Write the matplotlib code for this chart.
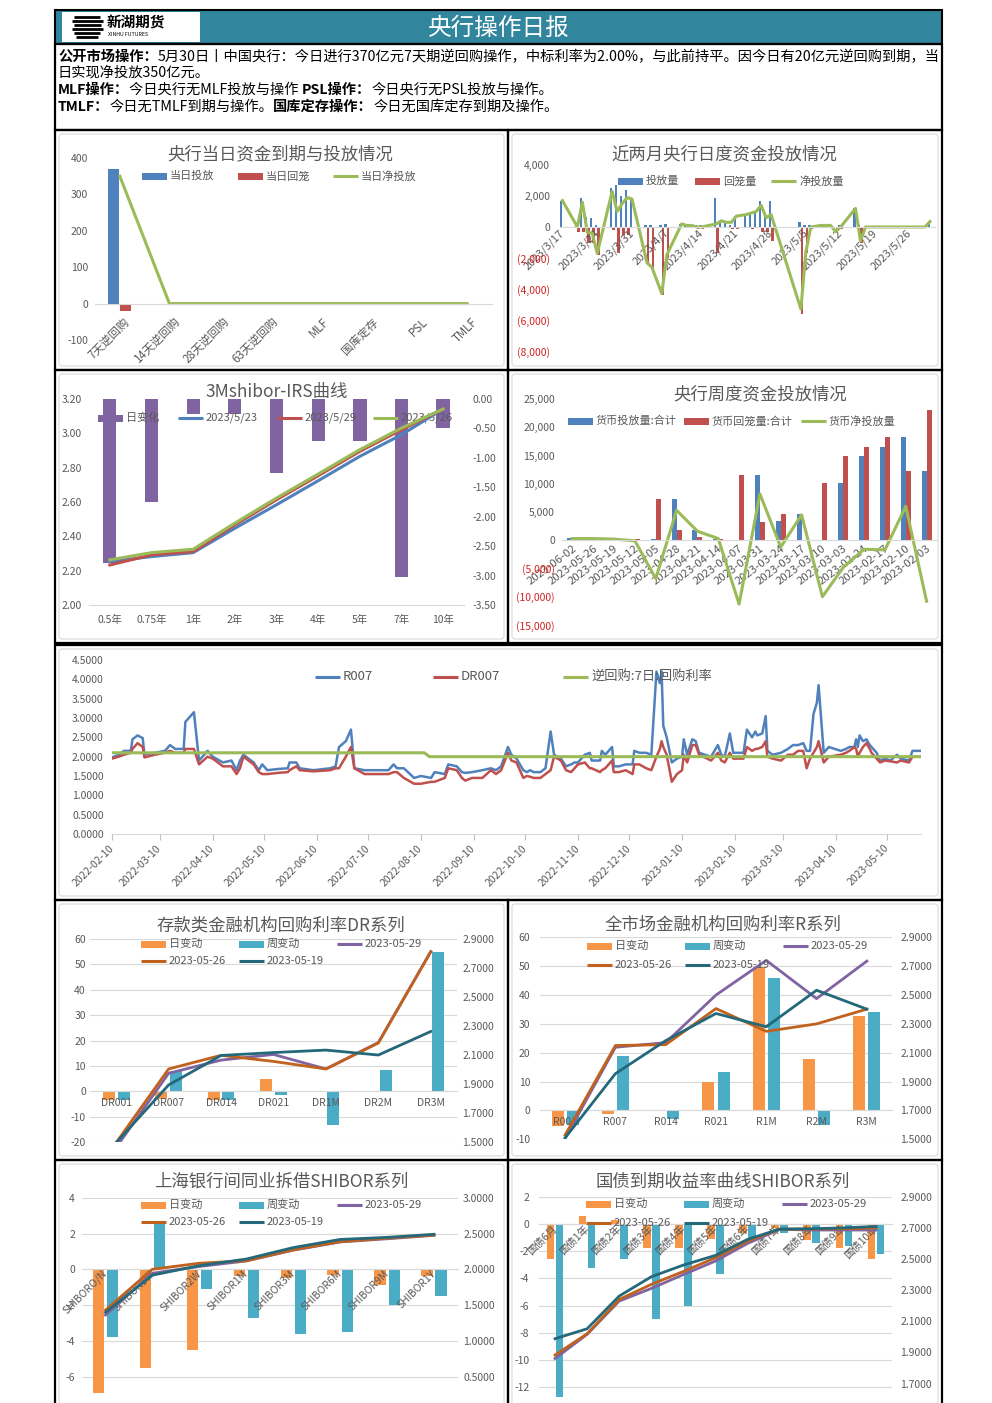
import numpy as np
import pandas as pd
import matplotlib
matplotlib.use('Agg')
import matplotlib.pyplot as plt
import matplotlib.dates as mdates
from matplotlib.patches import Rectangle, FancyBboxPatch
from matplotlib.transforms import ScaledTranslation

plt.rcParams['font.family'] = ['Noto Sans CJK SC', 'DejaVu Sans']
plt.rcParams['axes.unicode_minus'] = False

# ---------------- data ----------------
# 央行当日资金到期与投放情况
p1_cats = ['7天逆回购', '14天逆回购', '28天逆回购', '63天逆回购', 'MLF', '国库定存', 'PSL', 'TMLF']
p1_put = [370, 0, 0, 0, 0, 0, 0, 0]
p1_back = [-20, 0, 0, 0, 0, 0, 0, -3]
p1_net = [350, 0, 0, 0, 0, 0, 0, 0]

# 近两月央行日度资金投放情况
p2_dates = ['2023-03-17', '2023-03-20', '2023-03-21', '2023-03-22', '2023-03-23', '2023-03-24',
            '2023-03-27', '2023-03-28', '2023-03-29', '2023-03-30', '2023-03-31', '2023-04-03',
            '2023-04-04', '2023-04-06', '2023-04-07', '2023-04-10', '2023-04-11', '2023-04-12',
            '2023-04-13', '2023-04-14', '2023-04-17', '2023-04-18', '2023-04-19', '2023-04-20',
            '2023-04-21', '2023-04-23', '2023-04-24', '2023-04-25', '2023-04-26', '2023-04-27',
            '2023-04-28', '2023-05-04', '2023-05-05', '2023-05-06', '2023-05-08', '2023-05-09',
            '2023-05-10', '2023-05-11', '2023-05-12', '2023-05-15', '2023-05-16', '2023-05-17',
            '2023-05-18', '2023-05-19', '2023-05-22', '2023-05-23', '2023-05-24', '2023-05-25',
            '2023-05-26', '2023-05-29', '2023-05-30']
p2_put = [1700, 300, 1850, 650, 600, 100, 2500, 2700, 2000, 2400, 1800,
          100, 100, 100, 200, 200, 100, 100, 100, 100,
          1900, 400, 300, 100, 700, 800, 1000, 1000, 1700, 800, 1700,
          300, 100, 100, 100, 100, 100, 0, 100, 1200, 100,
          20, 20, 20, 20, 20, 20, 20, 20, 20, 370]
p2_back = [0, -300, -300, -1000, -1000, -1800, -200, -1700, -500, -500, 0,
           -2400, -2700, -4400, -2000, 0, 0, 0, -100, -100,
           -1700, 0, 0, -100, -100, 0, -100, 0, -300, -300, -900,
           -5600, -1700, -100, 0, 0, 0, -300, -100, 0, -1000,
           -20, -20, -20, -20, -20, -20, -20, -20, -20, -20]
p2_net = [1700, 0, 1600, -350, -400, -1700, 2300, 1000, 1500, 1900, 1800,
          -2300, -2600, -4300, -1800, 200, 100, 100, 0, 0,
          200, 400, 300, 300, 700, 800, 900, 1000, 1400, 600, 800,
          -5300, -1600, 0, 100, 100, 100, -300, 0, 1200, -900,
          0, 0, 0, 0, 0, 0, 0, 0, 0, 350]

# 3Mshibor-IRS曲线
p3_tenors = ['0.5年', '0.75年', '1年', '2年', '3年', '4年', '5年', '7年', '10年']
p3_chg = [-2.79, -1.75, -0.25, -0.25, -1.26, -0.72, -0.72, -3.03, -0.50]
p3_0523 = [2.253, 2.282, 2.305, 2.447, 2.584, 2.724, 2.866, 2.992, 3.142]
p3_0529 = [2.233, 2.292, 2.311, 2.467, 2.613, 2.753, 2.895, 3.021, 3.142]
p3_0526 = [2.263, 2.305, 2.325, 2.477, 2.623, 2.763, 2.905, 3.031, 3.142]

# 央行周度资金投放情况
p4_weeks = ['2023-06-02', '2023-05-26', '2023-05-19', '2023-05-12', '2023-05-05', '2023-04-28',
            '2023-04-21', '2023-04-14', '2023-04-07', '2023-03-31', '2023-03-24', '2023-03-17',
            '2023-03-10', '2023-03-03', '2023-02-24', '2023-02-17', '2023-02-10', '2023-02-03']
p4_put = [370, 20, 0, 100, 300, 7300, 1900, 300, 100, 11500, 3400, 4600, 100, 10100, 14900, 16500, 18200, 12200]
p4_back = [0, 0, 0, 300, 7300, 1900, 500, 200, 11500, 3300, 4600, 100, 10100, 14900, 16500, 18200, 12200, 23000]
p4_net = [300, 300, 200, -100, -6800, 5300, 1600, 300, -11300, 8200, -1200, 4500, -10000, -4800, -1600, -1700, 6000, -10800]

# R007 / DR007 / 逆回购利率
p5_dates = ['2022-02-10', '2022-02-14', '2022-02-17', '2022-02-21', '2022-02-22', '2022-02-25',
            '2022-02-28', '2022-03-01', '2022-03-07', '2022-03-13', '2022-03-16', '2022-03-19',
            '2022-03-24', '2022-03-25', '2022-03-30', '2022-04-02', '2022-04-07', '2022-04-10',
            '2022-04-16', '2022-04-21', '2022-04-24', '2022-04-26', '2022-04-28', '2022-05-04',
            '2022-05-07', '2022-05-09', '2022-05-12', '2022-05-18', '2022-05-24', '2022-05-25',
            '2022-05-29', '2022-05-31', '2022-06-08', '2022-06-18', '2022-06-21', '2022-06-23',
            '2022-06-27', '2022-06-30', '2022-07-02', '2022-07-08', '2022-07-22', '2022-07-25',
            '2022-07-27', '2022-07-31', '2022-08-06', '2022-08-10', '2022-08-16', '2022-08-18',
            '2022-08-24', '2022-08-26', '2022-08-31', '2022-09-03', '2022-09-05', '2022-09-09',
            '2022-09-15', '2022-09-20', '2022-09-23', '2022-09-26', '2022-09-30', '2022-10-02',
            '2022-10-05', '2022-10-09', '2022-10-11', '2022-10-13', '2022-10-15', '2022-10-19',
            '2022-10-22', '2022-10-25', '2022-10-27', '2022-10-31', '2022-11-03', '2022-11-06',
            '2022-11-08', '2022-11-10', '2022-11-14', '2022-11-17', '2022-11-18', '2022-11-23',
            '2022-11-24', '2022-11-26', '2022-11-30', '2022-12-01', '2022-12-04', '2022-12-08',
            '2022-12-12', '2022-12-13', '2022-12-16', '2022-12-20', '2022-12-23', '2022-12-26',
            '2022-12-28', '2022-12-29', '2022-12-30', '2023-01-01', '2023-01-04', '2023-01-07',
            '2023-01-10', '2023-01-11', '2023-01-13', '2023-01-16', '2023-01-18', '2023-01-20',
            '2023-01-27', '2023-01-31', '2023-02-02', '2023-02-04', '2023-02-07', '2023-02-09',
            '2023-02-12', '2023-02-15', '2023-02-17', '2023-02-20', '2023-02-22', '2023-02-23',
            '2023-02-26', '2023-02-28', '2023-03-01', '2023-03-04', '2023-03-09', '2023-03-13',
            '2023-03-16', '2023-03-19', '2023-03-22', '2023-03-24', '2023-03-26', '2023-03-28',
            '2023-03-30', '2023-03-31', '2023-04-03', '2023-04-06', '2023-04-13', '2023-04-16',
            '2023-04-18', '2023-04-21', '2023-04-22', '2023-04-23', '2023-04-24', '2023-04-26',
            '2023-04-28', '2023-04-30', '2023-05-01', '2023-05-04', '2023-05-06', '2023-05-09',
            '2023-05-12', '2023-05-16', '2023-05-18', '2023-05-23', '2023-05-25', '2023-05-30']
r007 = [1.98, 2.05, 2.15, 2.15, 2.45, 2.55, 2.48, 2.05, 2.10, 2.15, 2.30, 2.20,
        2.20, 2.90, 3.15, 1.90, 2.15, 2.00, 1.85, 1.90, 1.65, 1.90, 2.05, 1.85,
        1.65, 1.80, 1.65, 1.68, 1.70, 1.85, 1.85, 1.70, 1.65, 1.70, 1.75, 2.25,
        2.40, 2.70, 1.70, 1.65, 1.65, 1.80, 1.70, 1.70, 1.45, 1.50, 1.45, 1.60,
        1.55, 1.80, 1.75, 1.60, 1.58, 1.60, 1.65, 1.70, 1.65, 1.75, 2.25, 2.05,
        1.95, 1.65, 1.60, 1.65, 1.60, 1.60, 1.70, 2.65, 2.05, 1.95, 1.75, 1.80,
        1.85, 1.85, 2.05, 2.10, 1.90, 1.90, 2.15, 2.05, 2.25, 1.75, 1.75, 1.80,
        1.80, 2.15, 2.10, 2.10, 2.05, 4.20, 3.90, 4.20, 2.80, 2.50, 1.85, 1.95,
        2.00, 2.45, 2.05, 2.45, 2.40, 2.10, 2.00, 2.30, 2.05, 2.00, 2.60, 2.10,
        2.10, 2.10, 2.70, 2.50, 2.65, 2.55, 2.60, 3.05, 2.15, 2.05, 2.10, 2.20,
        2.30, 2.30, 2.35, 2.15, 2.15, 3.10, 3.40, 3.85, 2.10, 2.25, 2.15, 2.20,
        2.25, 2.25, 2.45, 2.25, 2.55, 2.40, 2.45, 2.30, 2.25, 2.10, 1.90, 1.95,
        1.90, 2.05, 1.95, 1.90, 2.15, 2.15]
dr007 = [1.95, 2.00, 2.05, 2.10, 2.20, 2.35, 2.25, 1.98, 2.05, 2.10, 2.15, 2.10,
         2.10, 2.20, 2.20, 1.80, 2.00, 1.95, 1.75, 1.75, 1.55, 1.70, 2.00, 1.80,
         1.60, 1.55, 1.55, 1.58, 1.60, 1.65, 1.75, 1.65, 1.62, 1.65, 1.70, 1.70,
         2.00, 2.25, 1.70, 1.55, 1.55, 1.60, 1.60, 1.45, 1.30, 1.30, 1.35, 1.35,
         1.45, 1.70, 1.65, 1.45, 1.38, 1.45, 1.45, 1.65, 1.55, 1.65, 2.10, 1.90,
         1.85, 1.45, 1.50, 1.48, 1.45, 1.45, 1.55, 1.65, 2.00, 1.90, 1.65, 1.60,
         1.70, 1.80, 1.85, 1.70, 1.70, 1.60, 1.65, 1.70, 1.90, 1.60, 1.60, 1.65,
         1.55, 1.80, 1.80, 1.70, 1.65, 2.00, 2.20, 2.40, 2.25, 2.05, 1.35, 1.55,
         1.65, 2.05, 1.85, 2.30, 2.30, 2.05, 1.90, 2.10, 1.90, 1.85, 2.10, 1.95,
         1.95, 1.95, 2.25, 2.15, 2.20, 2.20, 2.25, 2.40, 2.00, 1.95, 1.90, 2.05,
         2.05, 2.15, 2.15, 1.70, 1.95, 2.10, 2.25, 2.40, 1.85, 2.00, 2.05, 2.10,
         2.15, 2.25, 2.20, 2.00, 2.10, 2.25, 2.35, 2.20, 2.10, 1.95, 1.85, 1.90,
         1.88, 1.85, 1.90, 1.85, 2.00, 2.00]
p5_policy_dates = ['2022-02-10', '2022-08-12', '2022-08-15', '2023-05-30']
p5_policy = [2.10, 2.10, 2.00, 2.00]

# 存款类金融机构回购利率DR系列
p6_cats = ['DR001', 'DR007', 'DR014', 'DR021', 'DR1M', 'DR2M', 'DR3M']
p6_day = [-3.3, -3.0, -3.3, 4.8, 0.0, 0.3, 0.0]
p6_week = [-3.3, 8.0, -3.2, -1.3, -13.0, 8.6, 55.0]
p6_0529 = [1.465, 1.975, 2.066, 2.105, 2.005, 2.187, 2.813]
p6_0526 = [1.498, 2.005, 2.099, 2.057, 2.005, 2.184, 2.813]
p6_0519 = [1.498, 1.895, 2.098, 2.118, 2.135, 2.101, 2.263]

# 全市场金融机构回购利率R系列
p7_cats = ['R001', 'R007', 'R014', 'R021', 'R1M', 'R2M', 'R3M']
p7_day = [-5.3, -1.3, 0.3, 9.7, 49.6, 17.7, 32.9]
p7_week = [-5.0, 18.7, -2.9, 13.2, 46.0, -5.1, 34.0]
p7_0529 = [1.507, 2.138, 2.170, 2.500, 2.740, 2.475, 2.735]
p7_0526 = [1.530, 2.150, 2.156, 2.406, 2.248, 2.300, 2.402]
p7_0519 = [1.510, 1.955, 2.184, 2.372, 2.280, 2.533, 2.402]

# 上海银行间同业拆借SHIBOR系列
p8_cats = ['SHIBORO/N', 'SHIBOR1W', 'SHIBOR2W', 'SHIBOR1M', 'SHIBOR3M', 'SHIBOR6M', 'SHIBOR9M', 'SHIBOR1Y']
p8_day = [-6.9, -5.5, -4.5, -0.4, -0.5, -0.3, -0.9, -0.4]
p8_week = [-3.8, 2.7, -1.1, -2.7, -3.6, -3.5, -2.0, -1.5]
p8_0529 = [1.361, 1.945, 2.040, 2.116, 2.267, 2.382, 2.426, 2.474]
p8_0526 = [1.430, 2.000, 2.085, 2.120, 2.272, 2.385, 2.435, 2.478]
p8_0519 = [1.399, 1.918, 2.051, 2.143, 2.303, 2.417, 2.446, 2.489]

# 国债到期收益率曲线SHIBOR系列
p9_cats = ['国债6月', '国债1年', '国债2年', '国债3年', '国债4年', '国债5年', '国债6年',
           '国债7年', '国债8年', '国债9年', '国债10年']
p9_day = [-2.6, 0.6, 0.3, -1.8, -1.8, -1.1, -0.7, -0.3, -1.2, -1.8, -2.6]
p9_week = [-12.7, -3.2, -2.6, -7.0, -6.0, -3.7, -1.0, -0.7, -1.4, -1.6, -2.2]
p9_0529 = [1.861, 2.016, 2.230, 2.311, 2.400, 2.487, 2.600, 2.690, 2.686, 2.686, 2.686]
p9_0526 = [1.883, 2.020, 2.240, 2.337, 2.420, 2.508, 2.615, 2.692, 2.692, 2.694, 2.700]
p9_0519 = [1.988, 2.052, 2.262, 2.386, 2.461, 2.523, 2.626, 2.692, 2.694, 2.700, 2.709]

# ---------------- styles ----------------
BLUE, RED, GREEN, PURPLE = '#4F81BD', '#C0504D', '#9BBB59', '#8064A2'
ORANGE, TEAL, BROWN, DTEAL = '#F79646', '#4BACC6', '#C0621D', '#23697A'
GREY = '#595959'
LIGHT = '#D9D9D9'
NEG = '#D02020'
HEAD = '#31859C'

W, H = 992, 1403


def rect(x0, y0, x1, y1):
    # pixel box (top-left origin) -> figure fraction
    return [x0 / W, 1 - y1 / H, (x1 - x0) / W, (y1 - y0) / H]


def clean(ax):
    for s in ax.spines.values():
        s.set_visible(False)
    ax.tick_params(length=0, labelsize=7.5, labelcolor=GREY)
    ax.patch.set_alpha(0)


def zero_axis(ax):
    # category axis sits on the zero line, as in Excel
    ax.spines['bottom'].set_visible(True)
    ax.spines['bottom'].set_position(('data', 0))
    ax.spines['bottom'].set_color(LIGHT)


def paren_ticks(ax, ticks):
    ax.set_yticks(ticks)
    ax.set_yticklabels([f'({abs(v):,})' if v < 0 else f'{v:,}' for v in ticks])
    for lab, v in zip(ax.get_yticklabels(), ticks):
        if v < 0:
            lab.set_color(NEG)


def shift_labels(ax, dx, dy):
    off = ScaledTranslation(dx / 72, dy / 72, fig.dpi_scale_trans)
    for lab in ax.get_xticklabels():
        lab.set_transform(lab.get_transform() + off)


fig = plt.figure(figsize=(W / 100, H / 100), dpi=100)
fig.patch.set_facecolor('white')

bg = fig.add_axes([0, 0, 1, 1])
bg.set_xlim(0, W)
bg.set_ylim(H, 0)
bg.axis('off')

# header bar and logo
bg.add_patch(Rectangle((55, 10), 887, 34, fc=HEAD, ec='black', lw=1.5))
bg.add_patch(Rectangle((62, 12), 138, 30, fc='white', ec='none'))
for yy, xa, xb in [(17, 74, 100), (21, 72, 103), (25, 74, 101), (29, 72, 103), (33, 74, 100), (37, 76, 98)]:
    bg.plot([xa, xb], [yy, yy], color='black', lw=2.0, solid_capstyle='butt')
bg.text(107, 23, '新湖期货', fontsize=10.5, fontweight='bold', va='center', ha='left')
bg.text(108, 35, 'XINHU FUTURES', fontsize=3.8, va='center', ha='left')
bg.text(499, 28, '央行操作日报', color='white', fontsize=17, ha='center', va='center')

# panel frames
frames = [(55, 44, 942, 130),
          (55, 130, 508, 370), (508, 130, 942, 370),
          (55, 370, 508, 643), (508, 370, 942, 643),
          (55, 645, 942, 900),
          (55, 900, 508, 1160), (508, 900, 942, 1160),
          (55, 1160, 508, 1415), (508, 1160, 942, 1415)]
for x0, y0, x1, y1 in frames:
    bg.add_patch(Rectangle((x0, y0), x1 - x0, y1 - y0, fill=False, ec='black', lw=1.6))
    if y0 > 100:
        bg.add_patch(FancyBboxPatch((x0 + 4, y0 + 4), x1 - x0 - 8, y1 - y0 - 8,
                                    boxstyle='round,pad=0,rounding_size=3',
                                    fill=False, ec=LIGHT, lw=0.8))


def rich_line(x, y, parts, fs=10.25):
    prev = None
    for txt, bold in parts:
        w = 'bold' if bold else 'normal'
        if prev is None:
            prev = bg.text(x, y, txt, fontsize=fs, fontweight=w, ha='left', va='bottom')
        else:
            prev = bg.annotate(txt, xy=(1, 0), xycoords=prev, fontsize=fs, fontweight=w,
                               ha='left', va='bottom')


rich_line(58, 64, [('公开市场操作：', True),
                   ('5月30日丨中国央行：今日进行370亿元7天期逆回购操作，中标利率为2.00%，与此前持平。因今日有20亿元逆回购到期，当', False)])
rich_line(58, 80, [('日实现净投放350亿元。', False)])
rich_line(58, 97, [('MLF操作：', True), ('今日央行无MLF投放与操作 ', False),
                   ('PSL操作：', True), ('今日央行无PSL投放与操作。', False)])
rich_line(58, 114, [('TMLF：', True), ('今日无TMLF到期与操作。', False),
                    ('国库定存操作：', True), ('今日无国库定存到期及操作。', False)])

# ---------- 1. 央行当日资金到期与投放情况 ----------
ax = fig.add_axes(rect(95, 158, 492, 340))
clean(ax)
zero_axis(ax)
x = np.arange(len(p1_cats))
ax.bar(x - 0.12, p1_put, 0.22, color=BLUE)
ax.bar(x + 0.12, p1_back, 0.22, color=RED)
ax.plot(x, p1_net, color=GREEN, lw=2.2)
ax.set_xlim(-0.5, len(p1_cats) - 0.5)
ax.set_ylim(-100, 400)
ax.set_yticks(range(-100, 401, 100))
ax.set_xticks(x)
ax.set_xticklabels(p1_cats, rotation=45, ha='right', va='center', rotation_mode='anchor', fontsize=8.3)
ax.tick_params(axis='x', pad=4)
ax.tick_params(axis='y', pad=5)
shift_labels(ax, 6, -8)

# ---------- 2. 近两月央行日度资金投放情况 ----------
ax = fig.add_axes(rect(560, 165, 935, 351))
clean(ax)
zero_axis(ax)
xd = mdates.date2num(pd.to_datetime(p2_dates))
ax.bar(xd - 0.25, p2_put, 0.5, color=BLUE)
ax.bar(xd + 0.25, p2_back, 0.5, color=RED)
ax.plot(xd, p2_net, color=GREEN, lw=2.2)
ax.set_ylim(-8000, 4000)
ax.set_xlim(mdates.date2num(pd.Timestamp('2023-03-16 12:00')), mdates.date2num(pd.Timestamp('2023-05-31')))
wk = pd.date_range('2023-03-17', '2023-05-26', freq='7D')
ax.set_xticks(mdates.date2num(wk))
ax.set_xticklabels([f'{d.year}/{d.month}/{d.day}' for d in wk], rotation=45, ha='right',
                   va='center', rotation_mode='anchor', fontsize=8)
ax.tick_params(axis='x', pad=3)
ax.tick_params(axis='y', pad=7)
paren_ticks(ax, list(range(-8000, 4001, 2000)))

# ---------- 3. 3Mshibor-IRS曲线 ----------
ax = fig.add_axes(rect(89, 399, 464, 605))
ax2 = ax.twinx()
clean(ax)
clean(ax2)
x = np.arange(len(p3_tenors))
ax2.bar(x, p3_chg, 0.32, color=PURPLE)
ax2.set_ylim(-3.5, 0)
ax2.set_yticks(np.arange(-3.5, 0.01, 0.5))
ax2.set_yticklabels([f'{v:.2f}' for v in np.arange(-3.5, 0.01, 0.5)])
ax.plot(x, p3_0523, color=BLUE, lw=2.2)
ax.plot(x, p3_0529, color=RED, lw=2.2)
ax.plot(x, p3_0526, color=GREEN, lw=2.2)
ax.set_ylim(2.0, 3.2)
ax.set_yticks(np.arange(2.0, 3.21, 0.2))
ax.set_yticklabels([f'{v:.2f}' for v in np.arange(2.0, 3.21, 0.2)])
ax.set_xlim(-0.5, len(p3_tenors) - 0.5)
ax.spines['bottom'].set_visible(True)
ax.spines['bottom'].set_color(LIGHT)
ax.set_xticks(x)
ax.set_xticklabels(p3_tenors)
ax.set_zorder(ax2.get_zorder() + 1)
ax.patch.set_visible(False)
ax.tick_params(axis='x', pad=7)
ax.tick_params(axis='y', pad=5)
ax2.tick_params(axis='y', pad=6)

# ---------- 4. 央行周度资金投放情况 ----------
ax = fig.add_axes(rect(562, 399, 937, 625))
clean(ax)
zero_axis(ax)
x = np.arange(len(p4_weeks))
ax.bar(x - 0.12, p4_put, 0.24, color=BLUE)
ax.bar(x + 0.12, p4_back, 0.24, color=RED)
ax.plot(x, p4_net, color=GREEN, lw=2.2)
ax.set_xlim(-0.5, len(p4_weeks) - 0.5)
ax.set_ylim(-15000, 25000)
ax.set_xticks(x)
ax.set_xticklabels(p4_weeks, rotation=37, ha='right', va='center', rotation_mode='anchor', fontsize=8.2)
ax.tick_params(axis='x', pad=3)
ax.tick_params(axis='y', pad=5)
shift_labels(ax, 2, -2)
paren_ticks(ax, list(range(-15000, 25001, 5000)))

# ---------- 5. R007 / DR007 ----------
ax = fig.add_axes(rect(112, 660, 921, 834))
clean(ax)
xr = pd.to_datetime(p5_dates)
ax.plot(xr, r007, color=BLUE, lw=1.8)
ax.plot(xr, dr007, color=RED, lw=1.8)
ax.plot(pd.to_datetime(p5_policy_dates), p5_policy, color=GREEN, lw=2.2)
ax.set_ylim(0, 4.5)
ax.set_yticks(np.arange(0, 4.51, 0.5))
ax.set_yticklabels([f'{v:.4f}' for v in np.arange(0, 4.51, 0.5)])
ax.set_xlim(pd.Timestamp('2022-02-10'), pd.Timestamp('2023-05-30'))
ax.spines['bottom'].set_visible(True)
ax.spines['bottom'].set_color(LIGHT)
mt = pd.date_range('2022-02-10', '2023-05-10', freq=pd.DateOffset(months=1))
ax.set_xticks(mt)
ax.set_xticklabels([d.strftime('%Y-%m-%d') for d in mt], rotation=45, ha='right',
                   va='center', rotation_mode='anchor')
ax.tick_params(axis='x', length=4, color='#BFBFBF', pad=5)
ax.tick_params(axis='y', pad=6)


# ---------- 6-9. 回购 / SHIBOR / 国债 ----------
def combo(box, cats, day, week, d29, d26, d19, ylim, yticks, rlim, rticks,
          off, w, lpad, rpad, rot):
    ax = fig.add_axes(rect(*box))
    ax2 = ax.twinx()
    clean(ax)
    clean(ax2)
    zero_axis(ax)
    x = np.arange(len(cats))
    for t in yticks:
        ax.axhline(t, color=LIGHT, lw=0.8, zorder=0.5)
    ax.bar(x - off, day, w, color=ORANGE)
    ax.bar(x + off, week, w, color=TEAL)
    ax.set_ylim(*ylim)
    ax.set_yticks(yticks)
    ax2.plot(x, d29, color=PURPLE, lw=2)
    ax2.plot(x, d26, color=BROWN, lw=2)
    ax2.plot(x, d19, color=DTEAL, lw=2)
    ax2.set_ylim(*rlim)
    ax2.set_yticks(rticks)
    ax2.set_yticklabels([f'{v:.4f}' for v in rticks])
    ax.set_xlim(-0.5, len(cats) - 0.5)
    ax.set_xticks(x)
    if rot:
        ax.set_xticklabels(cats, rotation=45, ha='right', va='center', rotation_mode='anchor')
        ax.tick_params(axis='x', pad=2)
    else:
        ax.set_xticklabels(cats)
        ax.tick_params(axis='x', pad=5)
    ax.tick_params(axis='y', pad=lpad)
    ax2.tick_params(axis='y', pad=rpad)


combo((90, 939, 457, 1142.3), p6_cats, p6_day, p6_week, p6_0529, p6_0526, p6_0519,
      (-20, 60), list(range(-20, 61, 10)), (1.5, 2.9), list(np.arange(1.5, 2.91, 0.2)),
      0.14, 0.23, 3, 4, False)
combo((540, 937.3, 892, 1139.3), p7_cats, p7_day, p7_week, p7_0529, p7_0526, p7_0519,
      (-10, 60), list(range(-10, 61, 10)), (1.5, 2.9), list(np.arange(1.5, 2.91, 0.2)),
      0.15, 0.24, 7, 6, False)
combo((82, 1197.7, 457.5, 1412.5), p8_cats, p8_day, p8_week, p8_0529, p8_0526, p8_0519,
      (-8, 4), list(range(-6, 5, 2)), (0, 3), list(np.arange(0.5, 3.01, 0.5)),
      0.15, 0.24, 5, 4, True)
combo((539, 1196.7, 892, 1414.7), p9_cats, p9_day, p9_week, p9_0529, p9_0526, p9_0519,
      (-14, 2), list(range(-12, 3, 2)), (1.5, 2.9), list(np.arange(1.7, 2.91, 0.2)),
      0.14, 0.24, 7, 6, True)

# ---------------- titles and legends (on top) ----------------
top = fig.add_axes([0, 0, 1, 1])
top.set_xlim(0, W)
top.set_ylim(H, 0)
top.axis('off')

titles = [(280, 154, '央行当日资金到期与投放情况'), (724, 154, '近两月央行日度资金投放情况'),
          (277, 392, '3Mshibor-IRS曲线'), (760, 394, '央行周度资金投放情况'),
          (281, 925, '存款类金融机构回购利率DR系列'), (723, 925, '全市场金融机构回购利率R系列'),
          (281, 1182, '上海银行间同业拆借SHIBOR系列'), (723, 1182, '国债到期收益率曲线SHIBOR系列')]
for tx, ty, t in titles:
    top.text(tx, ty, t, fontsize=12.5, color=GREY, ha='center', va='center')


def leg(x0, y, label, color, kind='bar', w=25, fs=8):
    if kind == 'bar':
        top.add_patch(Rectangle((x0, y - 3.5), w, 7, fc=color, ec='none'))
    else:
        top.plot([x0, x0 + w], [y, y], color=color, lw=2.2, solid_capstyle='butt')
    top.text(x0 + w + 3, y, label, fontsize=fs, color=GREY, ha='left', va='center')


leg(142, 176, '当日投放', BLUE)
leg(238, 176, '当日回笼', RED)
leg(333, 176, '当日净投放', GREEN, 'line')

leg(618, 181, '投放量', BLUE)
leg(695, 181, '回笼量', RED)
leg(771, 181, '净投放量', GREEN, 'line')

leg(98, 418, '日变化', PURPLE)
leg(178, 418, '2023/5/23', BLUE, 'line')
leg(277, 418, '2023/5/29', RED, 'line')
leg(373, 418, '2023/5/26', GREEN, 'line')

leg(568, 421, '货币投放量:合计', BLUE)
leg(684, 421, '货币回笼量:合计', RED)
leg(801, 421, '货币净投放量', GREEN, 'line')

leg(315, 677, 'R007', BLUE, 'line', fs=9.5)
leg(433, 677, 'DR007', RED, 'line', fs=9.5)
leg(563, 677, '逆回购:7日:回购利率', GREEN, 'line', fs=9.5)

for lx, ly1, ly2 in [(141, 944, 961), (587, 946, 965), (141, 1205, 1222), (586, 1204, 1223)]:
    leg(lx, ly1, '日变动', ORANGE)
    leg(lx + 98, ly1, '周变动', TEAL)
    leg(lx + 196, ly1, '2023-05-29', PURPLE, 'line')
    leg(lx, ly2, '2023-05-26', BROWN, 'line')
    leg(lx + 98, ly2, '2023-05-19', DTEAL, 'line')

fig.savefig('out.png', dpi=100)
